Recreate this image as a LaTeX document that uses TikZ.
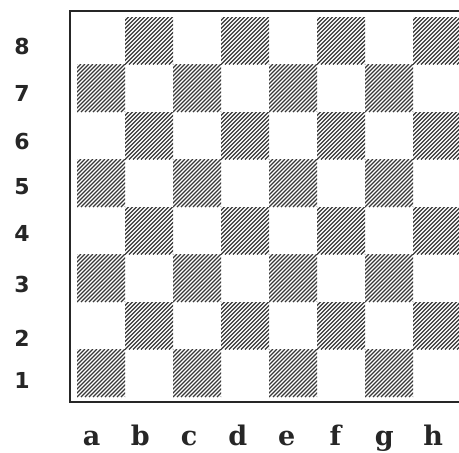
\documentclass[tikz,border=0pt]{standalone}
\usepackage{fontspec}
\newfontfamily\filefont{DejaVu Serif}
\newfontfamily\rankfont{DejaVu Sans}

\tikzset{
  filelabel/.style={font=\filefont\bfseries\fontsize{27}{27}\selectfont, anchor=base, inner sep=0pt, text=black!85},
  ranklabel/.style={font=\rankfont\bfseries\fontsize{22}{22}\selectfont, inner sep=0pt, text=black!85},
  hatch/.style={draw=black!78, line width=1.3pt},
  boardframe/.style={draw=black!85, line width=2pt},
}

\begin{document}
\begin{tikzpicture}[x=1pt,y=-1pt]
\useasboundingbox (0,0) rectangle (459,453);
\clip (0,0) rectangle (459,453);

% dark squares, hatched
\foreach \i in {0,...,7}{
  \foreach \r in {1,...,8}{
    \pgfmathtruncatemacro{\odd}{mod(\i+\r,2)}
    \ifnum\odd=1
      \begin{scope}
        \clip (77+\i*48, 17+8*47.5-\r*47.5) rectangle ++(48,47.5);
        \foreach \k in {-13,...,13}
          \draw[hatch] (77+\i*48+\k*4, 17+9*47.5-\r*47.5) -- ++(48,-48);
      \end{scope}
    \fi
  }
}

% frame
\draw[boardframe] (70,11) rectangle (468,402);

% ranks
\foreach \r/\yy in {8/46.5,7/93.5,6/142,5/187,4/233,3/284,2/338,1/380}
  \node[ranklabel] (rank\r) at (22,\yy) {\r};

% files
\foreach \f [count=\i from 0] in {a,b,c,d,e,f,g,h}
  \node[filelabel] (file\f) at (91.5+\i*48.8,445) {\f};

\end{tikzpicture}
\end{document}
